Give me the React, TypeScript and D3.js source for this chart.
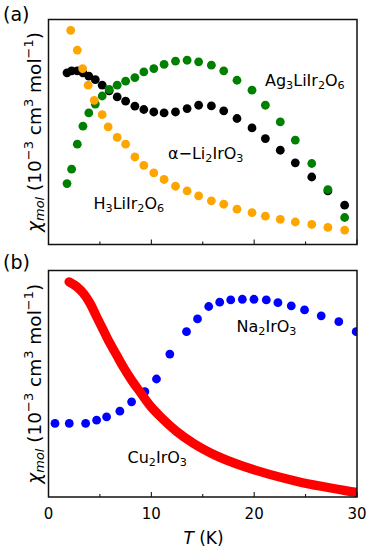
import React from "react";
import * as d3 from "d3";

// ---------- data (arbitrary units, 0..100 of axis height) ----------
const tOrange = [2.16, 2.8, 3.32, 3.86, 4.45, 5.22, 5.8, 6.68, 7.5, 8.4, 9.27, 10.24, 11.24, 12.35, 13.48, 14.6, 15.84, 17.04, 18.33, 19.79, 21.09, 22.54, 24.0, 25.6, 27.17, 28.8];
const chiH3LiIr2O6 = [95.2, 86.4, 78.2, 70.8, 64.1, 57.7, 52.3, 47.6, 44.6, 38.9, 35.2, 31.8, 28.9, 25.9, 23.8, 21.6, 19.4, 17.9, 15.7, 14.2, 12.6, 11.2, 10.0, 8.9, 7.6, 6.4];

const tBlackGreen = [1.8, 2.25, 2.8, 3.35, 3.92, 4.55, 5.22, 5.9, 6.68, 7.5, 8.4, 9.27, 10.24, 11.24, 12.35, 13.48, 14.6, 15.84, 17.04, 18.33, 19.79, 21.09, 22.54, 24.0, 25.6, 27.17, 28.8];
const chiLi2IrO3 = [76.3, 77.2, 77.2, 76.3, 74.8, 73.3, 70.8, 68.3, 65.6, 63.7, 61.5, 60.0, 58.9, 58.5, 58.9, 60.4, 61.9, 61.6, 59.4, 56.0, 51.8, 47.1, 41.9, 36.3, 30.0, 23.8, 17.5];
const chiAg3LiIr2O6 = [27.1, 33.5, 44.6, 52.6, 58.5, 62.4, 66.0, 68.9, 70.8, 72.6, 74.2, 76.7, 78.2, 80.1, 81.5, 81.9, 81.2, 79.7, 77.2, 73.0, 68.6, 61.9, 54.5, 46.4, 36.0, 24.4, 12.0];

const tNa = [0.63, 2.02, 3.61, 4.68, 5.65, 6.94, 8.08, 9.37, 10.5, 11.8, 13.42, 14.49, 15.58, 16.65, 17.72, 18.85, 19.98, 21.18, 22.31, 23.61, 24.9, 26.52, 28.23, 29.92];
const chiNa2IrO3 = [32.5, 32.5, 32.5, 33.9, 35.4, 37.9, 42.0, 46.5, 52.1, 63.1, 73.0, 78.6, 84.1, 86.0, 87.0, 87.3, 87.3, 87.0, 85.8, 84.4, 82.6, 80.0, 77.4, 73.0];

const tCu = [2.0, 2.74, 3.38, 4.03, 4.68, 5.32, 5.97, 6.62, 7.26, 8.08, 8.88, 9.85, 10.99, 12.45, 14.06, 16.33, 18.91, 21.5, 24.1, 26.68, 29.27, 30.0];
const chiCu2IrO3 = [95.0, 92.9, 90.0, 85.6, 79.6, 73.8, 67.9, 62.7, 57.5, 51.6, 46.5, 40.5, 35.0, 29.0, 23.8, 18.2, 13.6, 10.0, 7.0, 4.6, 2.5, 2.0];

const majorTicks = [0, 10, 20, 30];
const minorTicks = [5, 15, 25];
const xDomain = [0, 30];
const yDomain = [0, 100];

// ---------- layout ----------
const W = 374, H = 553;
const L = 48.5, R = 357;
const panels = { a: { top: 19.5, bottom: 244.5 }, b: { top: 270.5, bottom: 497 } };
const FONT = "DejaVu Sans, Liberation Sans, sans-serif";

const x = d3.scaleLinear().domain(xDomain).range([L, R]);
const yA = d3.scaleLinear().domain(yDomain).range([panels.a.bottom, panels.a.top]);
const yB = d3.scaleLinear().domain(yDomain).range([panels.b.bottom, panels.b.top]);

type Part = [string, "sub" | "sup" | null];

function Formula({ px, py, parts, size = 16 }: { px: number; py: number; parts: Part[]; size?: number }) {
  const els: React.ReactNode[] = [];
  let cur = 0;
  parts.forEach(([t, k], i) => {
    const target = k === "sub" ? size * 0.2 : k === "sup" ? -size * 0.42 : 0;
    const dy = target - cur;
    cur = target;
    els.push(
      <tspan key={i} dy={dy} fontSize={k ? size * 0.7 : size}>
        {t}
      </tspan>
    );
  });
  return (
    <text x={px} y={py} fontFamily={FONT} fontSize={size} fill="#000">
      {els}
    </text>
  );
}

function Dots({ ts, vs, y, color, r = 4.4 }: { ts: number[]; vs: number[]; y: d3.ScaleLinear<number, number>; color: string; r?: number }) {
  return (
    <g>
      {ts.map((t, i) => (
        <circle key={i} cx={x(t)} cy={y(vs[i])} r={r} fill={color} />
      ))}
    </g>
  );
}

function Frame({ top, bottom }: { top: number; bottom: number }) {
  return (
    <g>
      {majorTicks.map((t) => (
        <line key={"M" + t} x1={x(t)} x2={x(t)} y1={bottom} y2={bottom - 5} stroke="#000" strokeWidth={1} />
      ))}
      {minorTicks.map((t) => (
        <line key={"m" + t} x1={x(t)} x2={x(t)} y1={bottom} y2={bottom - 3} stroke="#000" strokeWidth={1} />
      ))}
      <rect x={L} y={top} width={R - L} height={bottom - top} fill="none" stroke="#111" strokeWidth={1.5} />
    </g>
  );
}

function YLabel({ top, bottom }: { top: number; bottom: number }) {
  const cy = (top + bottom) / 2;
  const s = 18.5;
  const sub = s * 0.2, sup = -s * 0.42;
  return (
    <text transform={`translate(40.5,${cy}) rotate(-90)`} textAnchor="middle" fontFamily={FONT} fontSize={s} fill="#000">
      <tspan fontStyle="italic">χ</tspan>
      <tspan fontStyle="italic" fontSize={s * 0.7} dy={sub}>mol</tspan>
      <tspan dy={-sub}>{"\u00a0(10"}</tspan>
      <tspan fontSize={s * 0.7} dy={sup}>{"−3"}</tspan>
      <tspan dy={-sup}>{"\u00a0cm"}</tspan>
      <tspan fontSize={s * 0.7} dy={sup}>3</tspan>
      <tspan dy={-sup}>{"\u00a0mol"}</tspan>
      <tspan fontSize={s * 0.7} dy={sup}>{"−1"}</tspan>
      <tspan dy={-sup}>)</tspan>
    </text>
  );
}

export default function App() {
  const line = d3
    .line<number>()
    .x((_, i) => x(tCu[i]))
    .y((v) => yB(v))
    .curve(d3.curveMonotoneX);
  return (
    <svg width={W} height={H} style={{ position: "absolute", left: 0, top: 0, background: "#fff" }}>
      <defs>
        <clipPath id="clipA">
          <rect x={L} y={panels.a.top} width={R - L} height={panels.a.bottom - panels.a.top} />
        </clipPath>
        <clipPath id="clipB">
          <rect x={L} y={panels.b.top} width={R - L} height={panels.b.bottom - panels.b.top} />
        </clipPath>
      </defs>
      <rect x={0} y={0} width={W} height={H} fill="#fff" />

      {/* panel (a) */}
      <g clipPath="url(#clipA)">
        <Dots ts={tBlackGreen} vs={chiLi2IrO3} y={yA} color="#000000" />
        <Dots ts={tBlackGreen} vs={chiAg3LiIr2O6} y={yA} color="#008000" />
        <Dots ts={tOrange} vs={chiH3LiIr2O6} y={yA} color="#FFA500" />
      </g>
      <Frame top={panels.a.top} bottom={panels.a.bottom} />
      <Formula px={265} py={86} parts={[["Ag", null], ["3", "sub"], ["LiIr", null], ["2", "sub"], ["O", null], ["6", "sub"]]} />
      <Formula px={168} py={158.5} parts={[["α−Li", null], ["2", "sub"], ["IrO", null], ["3", "sub"]]} />
      <Formula px={93.5} py={208.5} parts={[["H", null], ["3", "sub"], ["LiIr", null], ["2", "sub"], ["O", null], ["6", "sub"]]} />
      <YLabel top={panels.a.top} bottom={panels.a.bottom} />
      <text x={3} y={21} fontFamily={FONT} fontSize={19} fill="#000">(a)</text>

      {/* panel (b) */}
      <g clipPath="url(#clipB)">
        <Dots ts={tNa} vs={chiNa2IrO3} y={yB} color="#0000FF" />
        <path d={line(chiCu2IrO3) || ""} fill="none" stroke="#FF0000" strokeWidth={9.2} strokeLinecap="round" strokeLinejoin="round" />
      </g>
      <Frame top={panels.b.top} bottom={panels.b.bottom} />
      <Formula px={236.5} py={331.5} parts={[["Na", null], ["2", "sub"], ["IrO", null], ["3", "sub"]]} />
      <Formula px={127.5} py={463} parts={[["Cu", null], ["2", "sub"], ["IrO", null], ["3", "sub"]]} />
      <YLabel top={panels.b.top} bottom={panels.b.bottom} />
      <text x={3} y={268.5} fontFamily={FONT} fontSize={19} fill="#000">(b)</text>

      {majorTicks.map((t) => (
        <text key={t} x={x(t)} y={519} textAnchor="middle" fontFamily={FONT} fontSize={15} fill="#000">
          {t}
        </text>
      ))}
      <text x={203.5} y={544} textAnchor="middle" fontFamily={FONT} fontSize={17} fill="#000">
        <tspan fontStyle="italic">T</tspan>
        <tspan>{"\u00a0(K)"}</tspan>
      </text>
    </svg>
  );
}
